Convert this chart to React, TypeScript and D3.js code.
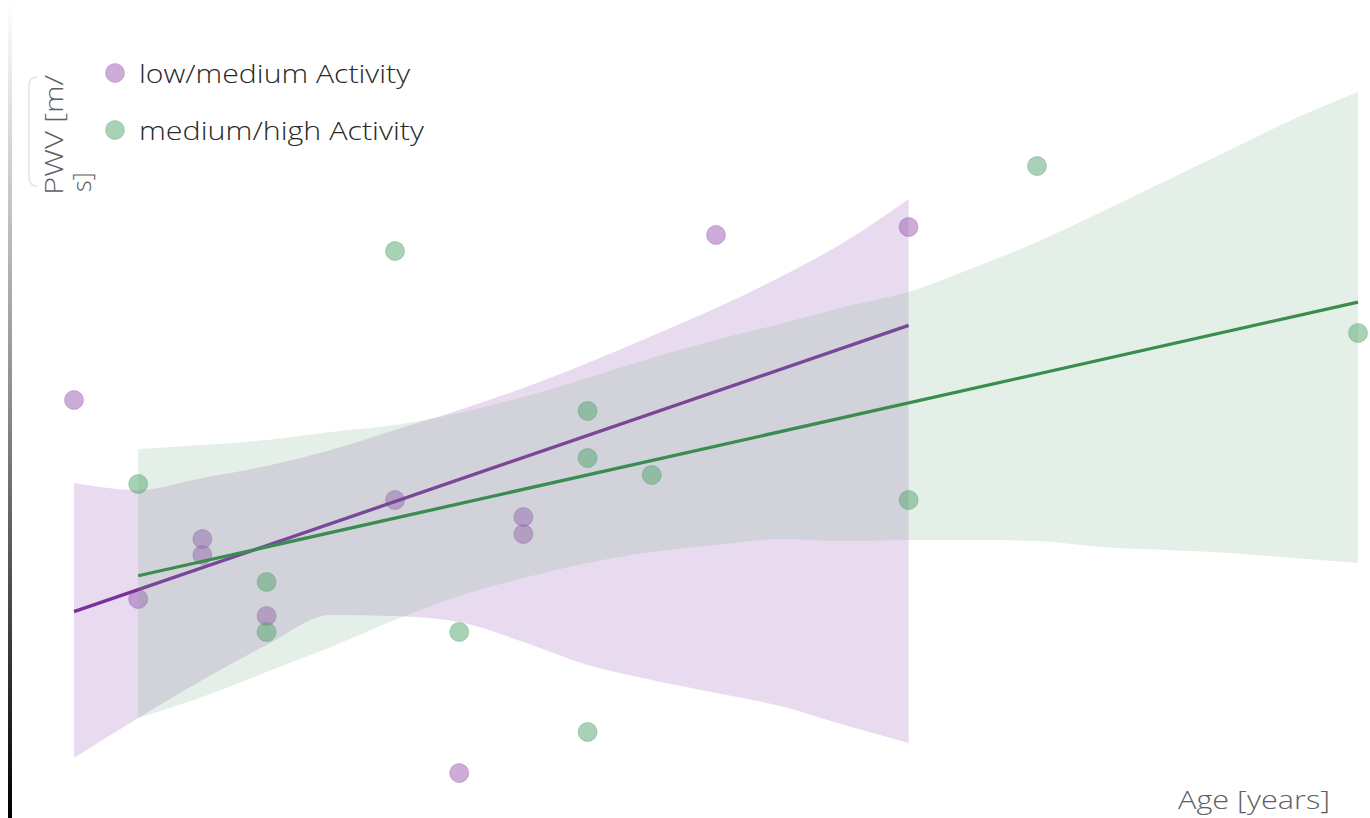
import React from "react";
import * as d3 from "d3";

// Age (years) and PWV (m/s) per activity group
const lowAge = [20, 21, 22, 22, 23, 25, 26, 27, 27, 30, 33];
const lowPwv = [7.18, 5.19, 5.79, 5.63, 5.02, 6.18, 3.45, 6.01, 5.84, 8.83, 8.91];

const highAge = [21, 23, 23, 25, 26, 28, 28, 28, 29, 33, 35, 40];
const highPwv = [6.34, 5.36, 4.86, 8.67, 4.86, 7.07, 6.6, 3.86, 6.43, 6.18, 9.52, 7.85];

// Confidence band of the fitted line, per age
const lowBandAge = [20, 21, 22, 23, 24, 25, 26, 27, 28, 29, 30, 31, 32, 33];
const lowBandLo = [3.6, 4.0, 4.38, 4.73, 5.03, 5.02, 4.96, 4.76, 4.53, 4.38, 4.25, 4.12, 3.93, 3.75];
const lowBandHi = [6.35, 6.28, 6.4, 6.52, 6.68, 6.88, 7.08, 7.3, 7.55, 7.82, 8.1, 8.41, 8.76, 9.19];

const highBandAge = [21, 22, 23, 24, 25, 26, 27, 28, 29, 30, 31, 32, 33, 34, 35, 36, 37, 38, 39, 40];
const highBandLo = [4.0, 4.21, 4.46, 4.71, 4.98, 5.22, 5.4, 5.55, 5.66, 5.73, 5.79, 5.77, 5.78, 5.78, 5.77, 5.71, 5.68, 5.65, 5.6, 5.55];
const highBandHi = [6.69, 6.73, 6.78, 6.86, 6.93, 7.05, 7.21, 7.4, 7.6, 7.78, 7.94, 8.11, 8.26, 8.5, 8.76, 9.06, 9.37, 9.68, 9.99, 10.26];

const seriesNames = ["low/medium Activity", "medium/high Activity"];
const xLabel = "Age [years]";
const yLabelLines = ["PWV [m/", "s]"];

const W = 1370;
const H = 818;

const x = d3.scaleLinear().domain([20, 40]).range([74, 1358]);
const y = d3.scaleLinear().domain([3, 11]).range([818, 18]);

// ordinary least squares fit over the group's age range
function fit(xs: number[], ys: number[]) {
  const mx = d3.mean(xs)!;
  const my = d3.mean(ys)!;
  let sxy = 0;
  let sxx = 0;
  xs.forEach((v, i) => {
    sxy += (v - mx) * (ys[i] - my);
    sxx += (v - mx) * (v - mx);
  });
  const b = sxy / sxx;
  const a = my - b * mx;
  const x0 = d3.min(xs)!;
  const x1 = d3.max(xs)!;
  return [
    [x0, a + b * x0],
    [x1, a + b * x1],
  ] as [number, number][];
}

const area = d3
  .area<number>()
  .x((d) => x(d))
  .curve(d3.curveMonotoneX);

const line = d3
  .line<[number, number]>()
  .x((d) => x(d[0]))
  .y((d) => y(d[1]));

const groups = [
  {
    age: lowAge,
    pwv: lowPwv,
    bandAge: lowBandAge,
    lo: lowBandLo,
    hi: lowBandHi,
    band: "#8e44ad",
    bandOpacity: 0.2,
    dot: "#9b59b6",
    dotStroke: "#8a4fa6",
    lineColor: "#7a2f9e",
  },
  {
    age: highAge,
    pwv: highPwv,
    bandAge: highBandAge,
    lo: highBandLo,
    hi: highBandHi,
    band: "#6fae80",
    bandOpacity: 0.19,
    dot: "#52a56c",
    dotStroke: "#4a9863",
    lineColor: "#3a8c4f",
  },
];

const labelFont = "'Open Sans', Lato, sans-serif";

export default function App() {
  return (
    <svg
      width={W}
      height={H}
      style={{ position: "absolute", left: 0, top: 0, display: "block", background: "#fff" }}
      fontFamily={labelFont}
      fontWeight={300}
    >
      <defs>
        <linearGradient id="axisFade" x1="0" y1="0" x2="0" y2="1">
          <stop offset="0" stopColor="#ffffff" />
          <stop offset="0.5" stopColor="#8a8a8a" />
          <stop offset="1" stopColor="#000000" />
        </linearGradient>
      </defs>

      {groups.map((g, gi) => {
        const bandPath = area
          .y0((_, i) => y(g.lo[i]))
          .y1((_, i) => y(g.hi[i]))(g.bandAge)!;
        return (
          <g key={gi}>
            <path d={bandPath} fill={g.band} fillOpacity={g.bandOpacity} />
            {g.age.map((a, i) => (
              <circle
                key={i}
                cx={x(a)}
                cy={y(g.pwv[i])}
                r={9.5}
                fill={g.dot}
                fillOpacity={0.5}
                stroke={g.dotStroke}
                strokeOpacity={0.35}
                strokeWidth={1}
              />
            ))}
            <path d={line(fit(g.age, g.pwv))!} fill="none" stroke={g.lineColor} strokeWidth={3.3} />
          </g>
        );
      })}

      {/* left axis */}
      <rect x={8} y={0} width={4} height={H} fill="url(#axisFade)" />

      {/* y label */}
      <path d="M 37 77 Q 29 77 29 86 L 29 177 Q 29 186 37 186" fill="none" stroke="#e2e2e2" strokeWidth={1.5} />
      <g transform="translate(63,195) rotate(-90)">
        <text x={0} y={0} fontSize={25} fill="#606060" textLength={120} lengthAdjust="spacingAndGlyphs">
          {yLabelLines[0]}
        </text>
        <text x={3} y={28} fontSize={25} fill="#606060">
          {yLabelLines[1]}
        </text>
      </g>

      {/* x label */}
      <text x={1178} y={809} fontSize={26} fill="#606060" textLength={152} lengthAdjust="spacingAndGlyphs">
        {xLabel}
      </text>

      {/* legend */}
      {seriesNames.map((name, i) => (
        <g key={name} transform={`translate(0, ${i * 57})`}>
          <circle
            cx={115}
            cy={73}
            r={9.5}
            fill={groups[i].dot}
            fillOpacity={0.5}
            stroke={groups[i].dotStroke}
            strokeOpacity={0.3}
          />
          <text
            x={139}
            y={83}
            fontSize={26}
            fill="#2a2a2a"
            textLength={i === 0 ? 271 : 285}
            lengthAdjust="spacingAndGlyphs"
          >
            {name}
          </text>
        </g>
      ))}
    </svg>
  );
}
